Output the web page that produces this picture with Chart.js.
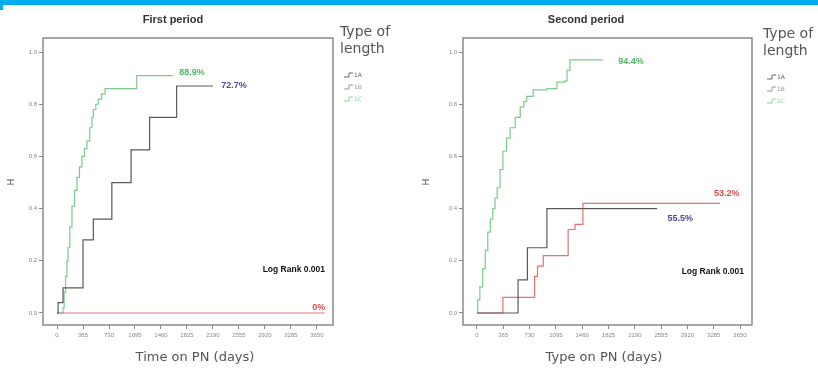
<!DOCTYPE html>
<html>
<head>
<meta charset="utf-8">
<script src="https://cdn.jsdelivr.net/npm/chart.js@4"></script>
<style>
  body { margin: 0; background: #fff; width: 818px; height: 374px; overflow: hidden; position: relative; }
  #topbar { position: absolute; left: 0; top: 0; width: 818px; height: 5px; background: #00aeef; }
  #topmark { position: absolute; left: 0; top: 5px; width: 3px; height: 5px; background: #00aeef; }
  .panel { position: absolute; top: 0; }
</style>
</head>
<body>
<div id="topbar"></div>
<div id="topmark"></div>
<div class="panel" style="left:0"><canvas id="c1" width="410" height="374"></canvas></div>
<div class="panel" style="left:410px"><canvas id="c2" width="408" height="374"></canvas></div>
<script>
// ---- data ----
const xTickValues = [0, 365, 730, 1095, 1460, 1825, 2190, 2555, 2920, 3285, 3650];
const yTickValues = [0, 0.2, 0.4, 0.6, 0.8, 1.0];
const groupNames = ['1A', '1B', '1C'];

// first period
const p1DaysA = [0, 15, 84, 365, 510, 770, 1040, 1300, 1680, 2190];
const p1SurvA = [0, 0.04, 0.096, 0.28, 0.36, 0.50, 0.625, 0.75, 0.87, 0.87];
const p1DaysB = [0, 3760];
const p1SurvB = [0, 0];
const p1DaysC = [0, 84, 100, 120, 140, 155, 180, 210, 245, 280, 315, 350, 385, 420, 460, 490, 510, 545, 580, 625, 675, 1120, 1630];
const p1SurvC = [0, 0.02, 0.08, 0.14, 0.20, 0.25, 0.33, 0.41, 0.47, 0.52, 0.56, 0.60, 0.63, 0.66, 0.71, 0.75, 0.78, 0.80, 0.82, 0.84, 0.86, 0.91, 0.91];
const p1Labels = ['72.7%', '0%', '88.9%'];

// second period
const p2DaysA = [0, 570, 700, 970, 2500];
const p2SurvA = [0, 0.127, 0.25, 0.40, 0.40];
const p2DaysB = [0, 360, 800, 840, 920, 1265, 1360, 1470, 3370];
const p2SurvB = [0, 0.06, 0.14, 0.18, 0.22, 0.32, 0.34, 0.42, 0.42];
const p2DaysC = [0, 10, 40, 80, 115, 150, 185, 220, 250, 280, 320, 360, 410, 460, 530, 600, 650, 690, 780, 970, 1110, 1220, 1250, 1290, 1750];
const p2SurvC = [0, 0.05, 0.10, 0.17, 0.24, 0.31, 0.36, 0.40, 0.44, 0.48, 0.55, 0.62, 0.67, 0.71, 0.75, 0.79, 0.81, 0.83, 0.855, 0.86, 0.885, 0.89, 0.93, 0.97, 0.97];
const p2Labels = ['55.5%', '53.2%', '94.4%'];

const lineColors = ['#5a5a5a', '#e87272', '#7ccb8c'];
const labelColors = ['#4a4a9c', '#e04a4a', '#4fb564'];
const legendColors = ['#666', '#999', '#8fd09c'];

function toPoints(days, surv) {
  return days.map((d, i) => ({ x: d, y: surv[i] }));
}

// texts, legend, frame
const decorPlugin = {
  id: 'decor',
  afterDraw(chart) {
    const o = chart.options.plugins.decor;
    const ctx = chart.ctx;
    const a = chart.chartArea;
    const xs = chart.scales.x, ys = chart.scales.y;
    ctx.save();
    ctx.strokeStyle = '#8a8a8a';
    ctx.lineWidth = 1.5;
    ctx.strokeRect(a.left, a.top, a.right - a.left, a.bottom - a.top);

    ctx.fillStyle = '#333';
    ctx.font = 'bold 11px "Liberation Sans", Arial, sans-serif';
    ctx.textAlign = 'center';
    ctx.textBaseline = 'middle';
    ctx.fillText(o.title, o.titleX, 20);

    ctx.fillStyle = '#555';
    ctx.font = '13px "DejaVu Sans", sans-serif';
    ctx.fillText(o.xTitle, o.xTitleX, 358);

    ctx.save();
    ctx.translate(o.yTitleX, 182);
    ctx.rotate(-Math.PI / 2);
    ctx.font = '9px "DejaVu Sans", sans-serif';
    ctx.fillText('H', 0, 0);
    ctx.restore();

    // legend
    ctx.textAlign = 'left';
    ctx.fillStyle = '#555';
    ctx.font = '14px "DejaVu Sans", sans-serif';
    ctx.fillText('Type of', o.legX, o.legY);
    ctx.fillText('length', o.legX, o.legY + 17);
    ctx.font = '6px "DejaVu Sans", sans-serif';
    groupNames.forEach((g, i) => {
      const y = o.legY + 43 + i * 12;
      ctx.strokeStyle = legendColors[i];
      ctx.lineWidth = 1;
      ctx.beginPath();
      ctx.moveTo(o.legX + 4, y + 2);
      ctx.lineTo(o.legX + 9, y + 2);
      ctx.lineTo(o.legX + 9, y - 2);
      ctx.lineTo(o.legX + 13, y - 2);
      ctx.stroke();
      ctx.fillStyle = legendColors[i];
      ctx.fillText(g, o.legX + 14, y);
    });

    // end-of-curve labels
    ctx.font = 'bold 9px "Liberation Sans", Arial, sans-serif';
    chart.data.datasets.forEach((ds, i) => {
      const last = ds.data[ds.data.length - 1];
      const off = o.labelOffsets[i];
      ctx.fillStyle = labelColors[i];
      ctx.textAlign = 'center';
      ctx.fillText(o.labels[i], xs.getPixelForValue(last.x) + off[0], ys.getPixelForValue(last.y) + off[1]);
    });

    ctx.fillStyle = '#111';
    ctx.textAlign = 'right';
    ctx.font = 'bold 8.5px "Liberation Sans", Arial, sans-serif';
    ctx.fillText('Log Rank 0.001', a.right - 8, o.logRankY);
    ctx.restore();
  }
};

function makeChart(id, sets, axisWidth, padRight, xMin, xMax, decor) {
  return new Chart(document.getElementById(id), {
    type: 'line',
    data: {
      datasets: sets.map((pts, i) => ({
        label: groupNames[i],
        data: pts,
        stepped: true,
        borderColor: lineColors[i],
        borderWidth: 1.2,
        pointRadius: 0,
        fill: false
      }))
    },
    options: {
      responsive: false,
      animation: false,
      layout: { padding: { top: 38, right: padRight, left: 0, bottom: 0 } },
      plugins: { legend: { display: false }, tooltip: { enabled: false }, decor: decor },
      scales: {
        x: {
          type: 'linear', min: xMin, max: xMax,
          afterBuildTicks: s => { s.ticks = xTickValues.map(v => ({ value: v })); },
          afterFit: s => { s.height = 49; },
          grid: { drawOnChartArea: false, tickLength: 4, color: '#888' },
          border: { display: false },
          ticks: { font: { size: 6 }, color: '#888', padding: 3, maxRotation: 0, autoSkip: false,
                   callback: v => String(v) }
        },
        y: {
          type: 'linear', min: -0.046, max: 1.054,
          afterBuildTicks: s => { s.ticks = yTickValues.map(v => ({ value: v })); },
          afterFit: s => { s.width = axisWidth; },
          grid: { drawOnChartArea: false, tickLength: 4, color: '#888' },
          border: { display: false },
          ticks: { font: { size: 6 }, color: '#888', padding: 2, callback: v => v.toFixed(1) }
        }
      }
    },
    plugins: [decorPlugin]
  });
}

makeChart('c1',
  [toPoints(p1DaysA, p1SurvA), toPoints(p1DaysB, p1SurvB), toPoints(p1DaysC, p1SurvC)],
  43, 77, -197, 3876,
  { title: 'First period', titleX: 173, xTitle: 'Time on PN (days)', xTitleX: 195, yTitleX: 12,
    legX: 340, legY: 32, labels: p1Labels, logRankY: 270,
    labelOffsets: [[21, 0], [-6, -5], [19, -3]] });

makeChart('c2',
  [toPoints(p2DaysA, p2SurvA), toPoints(p2DaysB, p2SurvB), toPoints(p2DaysC, p2SurvC)],
  53, 66, -194, 3816,
  { title: 'Second period', titleX: 176, xTitle: 'Type on PN (days)', xTitleX: 194, yTitleX: 17,
    legX: 353, legY: 34, labels: p2Labels, logRankY: 272,
    labelOffsets: [[23, 10], [7, -10], [28, 2]] });
</script>
</body>
</html>
